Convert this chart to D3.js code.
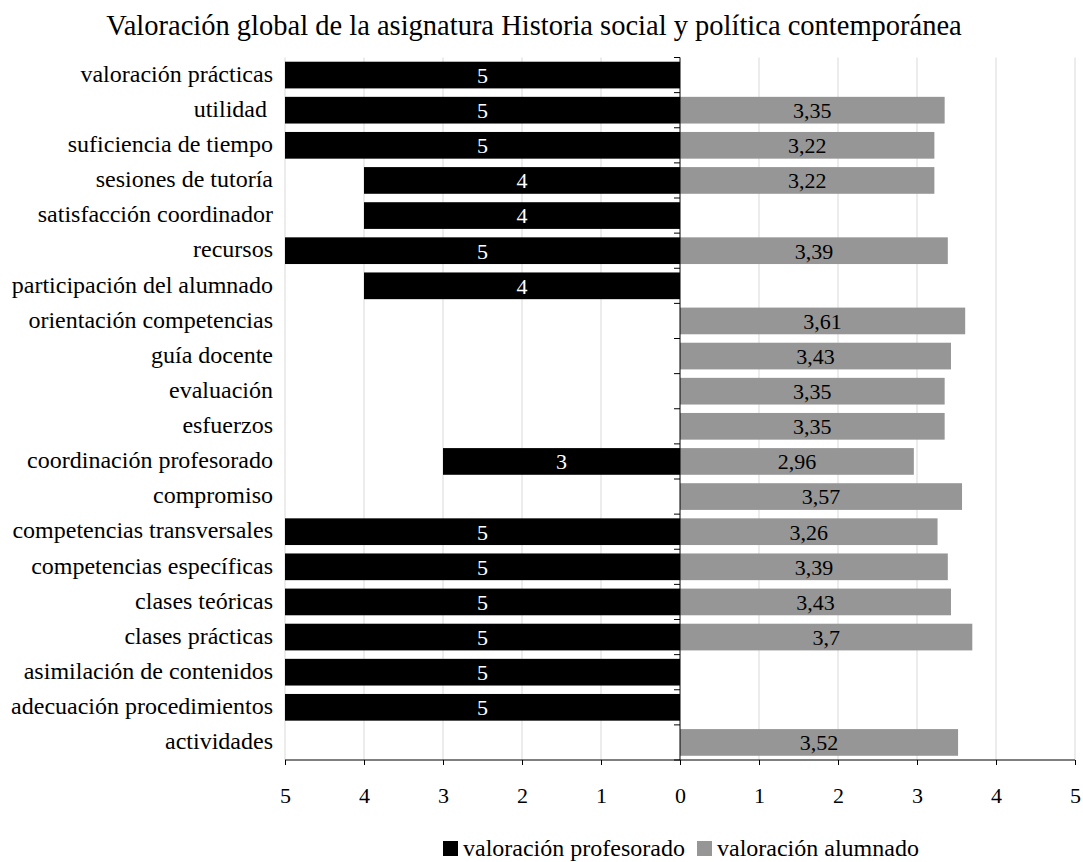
<!DOCTYPE html>
<html><head><meta charset="utf-8">
<script src="https://cdn.jsdelivr.net/npm/d3@7"></script>
<style>body{margin:0;background:#fff}svg{display:block}</style>
</head><body>
<script>
const categories = ["valoración prácticas","utilidad ","suficiencia de tiempo","sesiones de tutoría","satisfacción coordinador","recursos","participación del alumnado","orientación competencias","guía docente","evaluación","esfuerzos","coordinación profesorado","compromiso","competencias transversales","competencias específicas","clases teóricas","clases prácticas","asimilación de contenidos","adecuación procedimientos","actividades"];
const profesorado = [5,5,5,4,4,5,4,null,null,null,null,3,null,5,5,5,5,5,5,null];
const alumnado = [null,3.35,3.22,3.22,null,3.39,null,3.61,3.43,3.35,3.35,2.96,3.57,3.26,3.39,3.43,3.7,null,null,3.52];
const xTicks = [-5,-4,-3,-2,-1,0,1,2,3,4,5];
const seriesNames = ["valoración profesorado","valoración alumnado"];
const colors = ["#000000","#969696"];

const W=1083,H=862;
const svg=d3.select("body").append("svg").attr("width",W).attr("height",H);
const font="'Liberation Serif','Times New Roman',serif";
const plotTop=57.5,plotBottom=760;
const x=d3.scaleLinear().domain([-5,5]).range([285,1075]);
const y=d3.scaleBand().domain(categories).range([plotTop,plotBottom]).paddingInner(0.24).paddingOuter(0.12);

svg.append("text").attr("x",534).attr("y",35).attr("text-anchor","middle")
  .style("font-family",font).style("font-size","28.5px").text("Valoración global de la asignatura Historia social y política contemporánea");

// grid
svg.append("g").selectAll("line").data(xTicks.filter(d=>d!==0)).join("line")
  .attr("x1",d=>x(d)).attr("x2",d=>x(d)).attr("y1",plotTop).attr("y2",plotBottom)
  .attr("stroke","#d9d9d9").attr("stroke-width",1);

const fmt=v=>String(v).replace(".",",");
const rows=categories.map((c,i)=>({c,p:profesorado[i],a:alumnado[i]}));
svg.append("g").selectAll("rect").data(rows.filter(r=>r.p!=null)).join("rect")
  .attr("x",d=>x(-d.p)).attr("width",d=>x(0)-x(-d.p)).attr("y",d=>y(d.c)).attr("height",y.bandwidth()).attr("fill",colors[0]);
svg.append("g").selectAll("rect").data(rows.filter(r=>r.a!=null)).join("rect")
  .attr("x",x(0)).attr("width",d=>x(d.a)-x(0)).attr("y",d=>y(d.c)).attr("height",y.bandwidth()).attr("fill",colors[1]);

svg.append("g").selectAll("text").data(rows.filter(r=>r.p!=null)).join("text")
  .attr("x",d=>(x(-d.p)+x(0))/2).attr("y",d=>y(d.c)+y.bandwidth()/2).attr("dy","0.36em")
  .attr("text-anchor","middle").attr("fill","#fff").style("font-family",font).style("font-size","22px").text(d=>fmt(d.p));
svg.append("g").selectAll("text").data(rows.filter(r=>r.a!=null)).join("text")
  .attr("x",d=>(x(d.a)+x(0))/2).attr("y",d=>y(d.c)+y.bandwidth()/2).attr("dy","0.36em")
  .attr("text-anchor","middle").attr("fill","#000").style("font-family",font).style("font-size","22px").text(d=>fmt(d.a));

// x axis
const xa=svg.append("g").attr("transform","translate(0,"+plotBottom+")")
  .call(d3.axisBottom(x).tickValues(xTicks).tickFormat(d=>Math.abs(d)).tickSize(5));
xa.selectAll("text").attr("y",43).attr("dy",0).style("font-family",font).style("font-size","22px").attr("fill","#000");
xa.selectAll("line,path").attr("stroke","#000");
xa.select(".domain").attr("d","M285,0H1075");

// y axis at zero
svg.append("line").attr("x1",x(0)).attr("x2",x(0)).attr("y1",plotTop).attr("y2",plotBottom).attr("stroke","#000");
const bounds=d3.range(categories.length+1).map(i=>plotTop+i*((plotBottom-plotTop)/categories.length));
svg.append("g").selectAll("line").data(bounds).join("line")
  .attr("x1",x(0)-6).attr("x2",x(0)).attr("y1",d=>d).attr("y2",d=>d).attr("stroke","#000");

// category labels
svg.append("g").selectAll("text").data(categories).join("text")
  .attr("x",273).attr("y",d=>y(d)+y.bandwidth()/2).attr("dy","0.28em").attr("text-anchor","end")
  .style("font-family",font).style("font-size","24px").style("white-space","pre").text(d=>d);

// legend
const lg=svg.append("g");
const lx=[443,697];
seriesNames.forEach((n,i)=>{
  lg.append("rect").attr("x",lx[i]).attr("y",841).attr("width",15).attr("height",15).attr("fill",colors[i]);
  lg.append("text").attr("x",lx[i]+20).attr("y",856).style("font-family",font).style("font-size","24px").text(n);
});
</script>
</body></html>
